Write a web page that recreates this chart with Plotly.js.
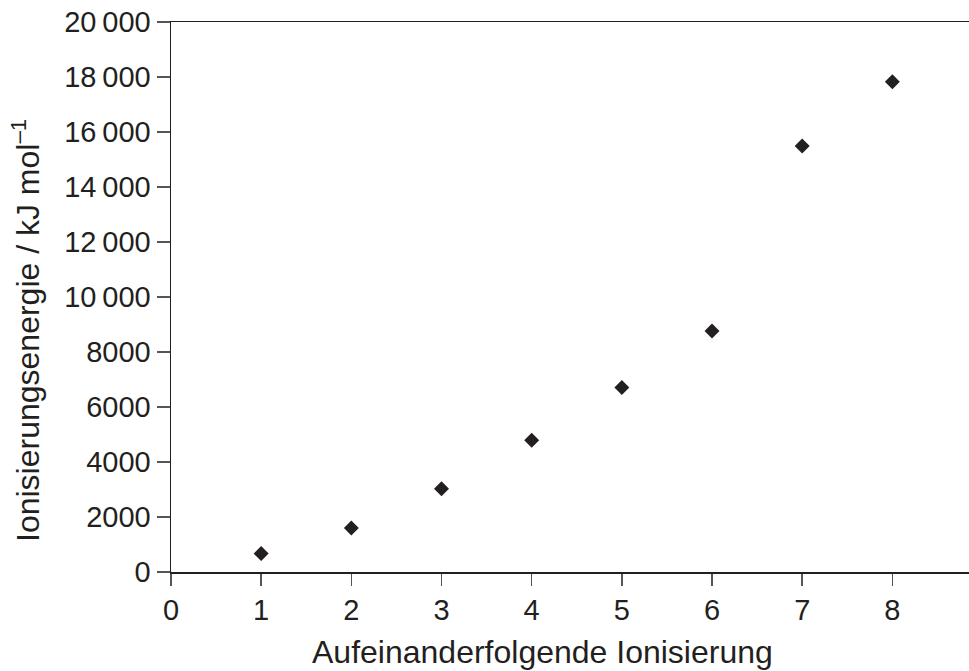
<!DOCTYPE html>
<html>
<head>
<meta charset="utf-8">
<script src="https://cdn.plot.ly/plotly-3.0.1.min.js"></script>
<style>html,body{margin:0;padding:0;background:#fff;}#chart{width:969px;height:671px;}</style>
</head>
<body>
<div id="chart"></div>
<script>
const ionisationNumber = [1, 2, 3, 4, 5, 6, 7, 8];
const ionisationEnergy = [670, 1600, 3030, 4790, 6710, 8760, 15490, 17830];
const yTickValues = [0, 2000, 4000, 6000, 8000, 10000, 12000, 14000, 16000, 18000, 20000];
const yTickLabels = ['0', '2000', '4000', '6000', '8000', '10\u2009000', '12\u2009000', '14\u2009000', '16\u2009000', '18\u2009000', '20\u2009000'];
const xTickValues = [0, 1, 2, 3, 4, 5, 6, 7, 8];
const xTickLabels = ['0', '1', '2', '3', '4', '5', '6', '7', '8'];

const ink = '#231f20';
const fontFam = 'Liberation Sans, Arial, Helvetica, sans-serif';

const trace = {
  x: ionisationNumber,
  y: ionisationEnergy,
  type: 'scatter',
  mode: 'markers',
  marker: {symbol: 'diamond', size: 11.5, color: ink, line: {width: 0}},
  hoverinfo: 'x+y',
  showlegend: false
};

const layout = {
  width: 969,
  height: 671,
  paper_bgcolor: '#ffffff',
  plot_bgcolor: '#ffffff',
  margin: {l: 171, r: 0, t: 22, b: 99, pad: 0},
  font: {family: fontFam, size: 30, color: ink},
  xaxis: {
    range: [0, 8.85],
    tickmode: 'array',
    tickvals: xTickValues,
    ticktext: xTickLabels,
    ticks: 'outside',
    ticklen: 12,
    tickwidth: 1.5,
    tickcolor: '#555555',
    showline: true,
    linecolor: ink,
    linewidth: 1.5,
    mirror: true,
    showgrid: false,
    zeroline: false,
    tickfont: {size: 29, color: ink, family: fontFam},
    fixedrange: true
  },
  yaxis: {
    range: [0, 20000],
    tickmode: 'array',
    tickvals: yTickValues,
    ticktext: yTickLabels,
    ticks: 'outside',
    ticklen: 13,
    tickwidth: 1.5,
    tickcolor: '#555555',
    showline: true,
    linecolor: ink,
    linewidth: 1.5,
    showgrid: false,
    zeroline: false,
    tickfont: {size: 29, color: ink, family: fontFam},
    fixedrange: true
  },
  annotations: [
    {
      text: 'Aufeinanderfolgende Ionisierung',
      xref: 'paper', yref: 'paper',
      x: (542 - 171) / 798, y: -(652 - 572) / 550,
      xanchor: 'center', yanchor: 'middle',
      showarrow: false,
      font: {size: 32, color: ink, family: fontFam}
    },
    {
      text: 'Ionisierungsenergie / kJ mol<sup>\u20131</sup>',
      xref: 'paper', yref: 'paper',
      x: -(171 - 26) / 798, y: (572 - 331) / 550,
      xanchor: 'center', yanchor: 'middle',
      textangle: -90,
      showarrow: false,
      font: {size: 32, color: ink, family: fontFam}
    }
  ]
};

Plotly.newPlot('chart', [trace], layout, {displayModeBar: false, staticPlot: true});
</script>
</body>
</html>
